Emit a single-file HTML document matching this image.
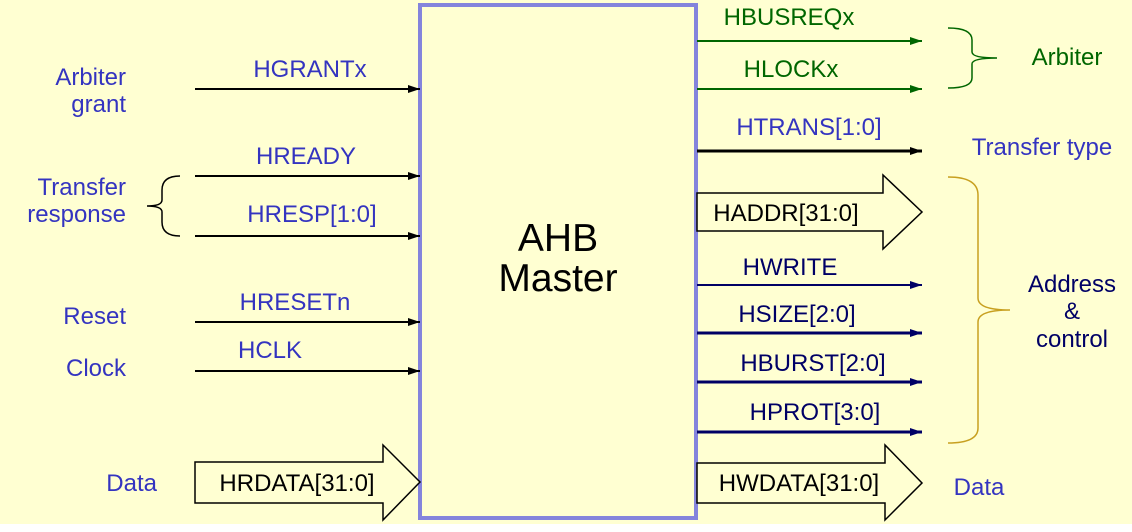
<!DOCTYPE html>
<html><head><style>
html,body{margin:0;padding:0;background:#fff;}
svg{display:block;font-family:"Liberation Sans",sans-serif;}
</style></head><body>
<svg width="1132" height="532" viewBox="0 0 1132 532" xmlns="http://www.w3.org/2000/svg">
<defs>
<marker id="ak" markerWidth="12" markerHeight="8" refX="12" refY="4" orient="auto" markerUnits="userSpaceOnUse"><path d="M0,0 L12,4 L0,8z" fill="#000"/></marker>
<marker id="ag" markerWidth="12" markerHeight="8" refX="12" refY="4" orient="auto" markerUnits="userSpaceOnUse"><path d="M0,0 L12,4 L0,8z" fill="#006600"/></marker>
<marker id="an" markerWidth="12" markerHeight="8" refX="12" refY="4" orient="auto" markerUnits="userSpaceOnUse"><path d="M0,0 L12,4 L0,8z" fill="#000066"/></marker>
</defs>
<rect x="0" y="0" width="1132" height="524" fill="#FFFFD2"/>
<rect x="420" y="5" width="276" height="513" fill="#FFFFD2" stroke="#8484DC" stroke-width="4"/>
<text x="558" y="251" font-size="39" text-anchor="middle" fill="#000">AHB</text>
<text x="558" y="291" font-size="39" text-anchor="middle" fill="#000">Master</text>

<g fill="#3434C0" font-size="24">
<text x="126" y="85" text-anchor="end">Arbiter</text>
<text x="126" y="112" text-anchor="end">grant</text>
<text x="126" y="195" text-anchor="end">Transfer</text>
<text x="126" y="222" text-anchor="end">response</text>
<text x="126" y="324" text-anchor="end">Reset</text>
<text x="126" y="376" text-anchor="end">Clock</text>
<text x="157" y="491" text-anchor="end">Data</text>
<text x="310" y="77" text-anchor="middle">HGRANTx</text>
<text x="306" y="164" text-anchor="middle">HREADY</text>
<text x="312" y="222" text-anchor="middle">HRESP[1:0]</text>
<text x="295" y="310" text-anchor="middle">HRESETn</text>
<text x="270" y="358" text-anchor="middle">HCLK</text>
<text x="809" y="135" text-anchor="middle">HTRANS[1:0]</text>
<text x="1042" y="155" text-anchor="middle">Transfer type</text>
<text x="979" y="495" text-anchor="middle">Data</text>
</g>
<g stroke="#000" stroke-width="2">
<line x1="195" y1="89" x2="420" y2="89" marker-end="url(#ak)"/>
<line x1="195" y1="176" x2="420" y2="176" marker-end="url(#ak)"/>
<line x1="195" y1="236" x2="420" y2="236" marker-end="url(#ak)"/>
<line x1="195" y1="322" x2="420" y2="322" marker-end="url(#ak)"/>
<line x1="195" y1="371" x2="420" y2="371" marker-end="url(#ak)"/>
<line x1="697" y1="151" x2="922" y2="151" stroke-width="3" marker-end="url(#ak)"/>
</g>
<path d="M180,176 Q162,176 162,190 L162,200 Q162,206 147,206 Q162,206 162,212 L162,222 Q162,236 180,236" fill="none" stroke="#000" stroke-width="1.5"/>

<g stroke="#006600" stroke-width="2">
<line x1="697" y1="41" x2="922" y2="41" marker-end="url(#ag)"/>
<line x1="697" y1="89" x2="922" y2="89" marker-end="url(#ag)"/>
</g>
<path d="M948,28 Q972,28 972,40 L972,52 Q972,58 997,58 Q972,58 972,64 L972,78 Q972,88 948,88" fill="none" stroke="#006600" stroke-width="1.5"/>
<g fill="#006600" font-size="24">
<text x="789" y="25" text-anchor="middle">HBUSREQx</text>
<text x="791" y="77" text-anchor="middle">HLOCKx</text>
<text x="1067" y="65" text-anchor="middle">Arbiter</text>
</g>

<g stroke="#000066">
<line x1="697" y1="285" x2="922" y2="285" stroke-width="2" marker-end="url(#an)"/>
<line x1="697" y1="333" x2="922" y2="333" stroke-width="3" marker-end="url(#an)"/>
<line x1="697" y1="382" x2="922" y2="382" stroke-width="3" marker-end="url(#an)"/>
<line x1="697" y1="432" x2="922" y2="432" stroke-width="3" marker-end="url(#an)"/>
</g>
<g fill="#000066" font-size="24">
<text x="790" y="275" text-anchor="middle">HWRITE</text>
<text x="797" y="322" text-anchor="middle">HSIZE[2:0]</text>
<text x="813" y="371" text-anchor="middle">HBURST[2:0]</text>
<text x="815" y="420" text-anchor="middle">HPROT[3:0]</text>
<text x="1072" y="292" text-anchor="middle">Address</text>
<text x="1072" y="319" text-anchor="middle">&amp;</text>
<text x="1072" y="347" text-anchor="middle">control</text>
</g>
<path d="M948,177 Q978,177 978,195 L978,298 Q978,310 1010,310 Q978,310 978,322 L978,428 Q978,443 948,443" fill="none" stroke="#C8A020" stroke-width="1.5"/>

<g fill="#FFFFD2" stroke="#000" stroke-width="1.5">
<path d="M195,462 L383,462 L383,445 L420,482 L383,520 L383,503 L195,503 Z"/>
<path d="M697,193 L883,193 L883,175 L922,212 L883,249 L883,231 L697,231 Z"/>
<path d="M697,463 L885,463 L885,445 L922,483 L885,520 L885,503 L697,503 Z"/>
</g>
<g fill="#000" font-size="24">
<text x="297" y="491" text-anchor="middle">HRDATA[31:0]</text>
<text x="786" y="221" text-anchor="middle">HADDR[31:0]</text>
<text x="799" y="491" text-anchor="middle">HWDATA[31:0]</text>
</g>
</svg>
</body></html>
